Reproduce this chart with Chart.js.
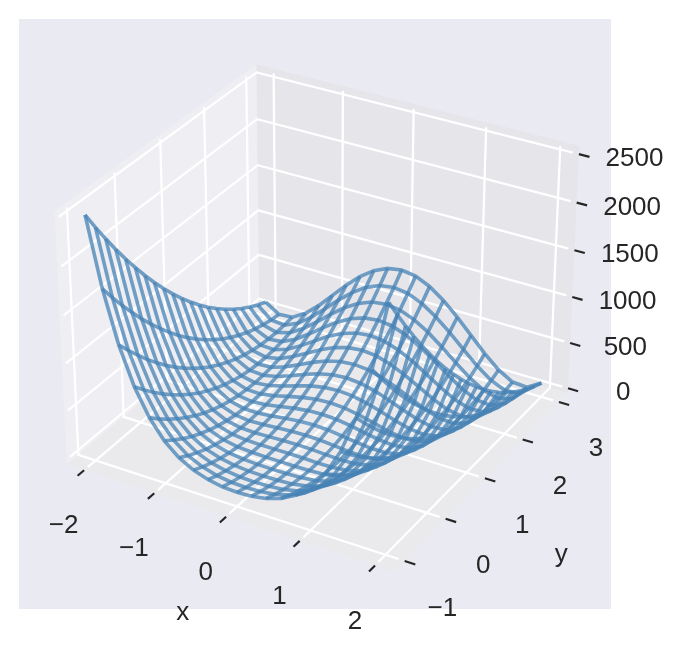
<!DOCTYPE html>
<html>
<head>
<meta charset="utf-8">
<title>Superficie</title>
<script src="https://cdn.jsdelivr.net/npm/chart.js@4"></script>
<style>
    body { margin: 0; background: #fff; }
    canvas { display: block; }
</style>
</head>
<body>
<canvas id="grafico" width="682" height="653"></canvas>
<script>
// Valores
const xValores = [-2, -1.8, -1.6, -1.4, -1.2, -1, -0.8, -0.6, -0.4, -0.2, 0, 0.2, 0.4, 0.6, 0.8, 1, 1.2, 1.4, 1.6, 1.8, 2];
const yValores = [-1, -0.8, -0.6, -0.4, -0.2, 0, 0.2, 0.4, 0.6, 0.8, 1, 1.2, 1.4, 1.6, 1.8, 2, 2.2, 2.4, 2.6, 2.8, 3];
// Uma linha para cada x, uma coluna para cada y
const zValores = [
    [2509, 2313, 2125, 1945, 1773, 1609, 1453, 1305, 1165, 1033, 909, 793, 685, 585, 493, 409, 333, 265, 205, 153, 109],
    [1806, 1640, 1483, 1333, 1191, 1058, 932, 815, 705, 603, 510, 424, 347, 277, 215, 162, 116, 79, 49, 27, 14],
    [1274, 1136, 1006, 883, 769, 662, 564, 474, 391, 317, 250, 192, 142, 99, 65, 38, 20, 10, 7, 13, 26],
    [882, 768, 661, 563, 473, 390, 316, 249, 191, 141, 98, 64, 37, 19, 9, 6, 12, 25, 47, 77, 114],
    [600, 507, 421, 344, 274, 212, 159, 113, 76, 46, 24, 11, 5, 8, 18, 36, 63, 97, 140, 190, 248],
    [404, 328, 260, 200, 148, 104, 68, 40, 20, 8, 4, 8, 20, 40, 68, 104, 148, 200, 260, 328, 404],
    [272, 210, 157, 111, 74, 44, 22, 9, 3, 6, 16, 34, 61, 95, 138, 188, 246, 313, 387, 470, 560],
    [188, 138, 95, 61, 34, 16, 6, 3, 9, 22, 44, 74, 111, 157, 210, 272, 342, 419, 505, 598, 700],
    [137, 94, 60, 33, 15, 5, 2, 8, 21, 43, 73, 110, 156, 209, 271, 341, 418, 504, 597, 699, 809],
    [109, 72, 42, 20, 7, 1, 4, 14, 32, 59, 93, 136, 186, 244, 311, 385, 468, 558, 656, 763, 877],
    [101, 65, 37, 17, 5, 1, 5, 17, 37, 65, 101, 145, 197, 257, 325, 401, 485, 577, 677, 785, 901],
    [109, 72, 42, 20, 7, 1, 4, 14, 32, 59, 93, 136, 186, 244, 311, 385, 468, 558, 656, 763, 877],
    [135, 92, 58, 31, 13, 3, 0, 6, 19, 41, 71, 108, 154, 207, 269, 339, 416, 502, 595, 697, 807],
    [185, 135, 92, 58, 31, 13, 3, 0, 6, 19, 41, 71, 108, 154, 207, 269, 339, 416, 502, 595, 697],
    [269, 207, 154, 108, 71, 41, 19, 6, 0, 3, 13, 31, 58, 92, 135, 185, 243, 310, 384, 467, 557],
    [400, 324, 256, 196, 144, 100, 64, 36, 16, 4, 0, 4, 16, 36, 64, 100, 144, 196, 256, 324, 400],
    [595, 502, 416, 339, 269, 207, 154, 108, 71, 41, 19, 6, 0, 3, 13, 31, 58, 92, 135, 185, 243],
    [876, 762, 655, 557, 467, 384, 310, 243, 185, 135, 92, 58, 31, 13, 3, 0, 6, 19, 41, 71, 108],
    [1267, 1129, 999, 876, 762, 655, 557, 467, 384, 310, 243, 185, 135, 92, 58, 31, 13, 3, 0, 6, 19],
    [1799, 1633, 1476, 1326, 1184, 1051, 925, 808, 698, 596, 503, 417, 340, 270, 208, 155, 109, 72, 42, 20, 7],
    [2501, 2305, 2117, 1937, 1765, 1601, 1445, 1297, 1157, 1025, 901, 785, 677, 577, 485, 401, 325, 257, 197, 145, 101]
];
const xTicks = [-2, -1, 0, 1, 2];
const yTicks = [-1, 0, 1, 2, 3];
const zTicks = [0, 500, 1000, 1500, 2000, 2500];

// Limites da caixa, topo do painel e fim das linhas de grade
const xLim = [-2.25, 2.25], yLim = [-1.25, 3.25], zLim = [-52, 2561];
const folgaXY = 0.08, zGradeTopo = 2535, zPainelTopo = 2585;

// Câmera: elevação 30, azimute -60, distância 10
const caixa = [1.206, 1.206, 0.92];
const elev = 30 * Math.PI / 180, azim = -60 * Math.PI / 180, dist = 10;
const w = [Math.cos(elev) * Math.cos(azim), Math.cos(elev) * Math.sin(azim), Math.sin(elev)];
const nu = Math.hypot(w[0], w[1]);
const u = [-w[1] / nu, w[0] / nu, 0];
const v = [w[1] * u[2] - w[2] * u[1], w[2] * u[0] - w[0] * u[2], w[0] * u[1] - w[1] * u[0]];

function projetar(x, y, z) {
    const p = [
        ((x - xLim[0]) / (xLim[1] - xLim[0]) - 0.5) * caixa[0] - dist * w[0],
        ((y - yLim[0]) / (yLim[1] - yLim[0]) - 0.5) * caixa[1] - dist * w[1],
        ((z - zLim[0]) / (zLim[1] - zLim[0]) - 0.5) * caixa[2] - dist * w[2]
    ];
    const prof = -(p[0] * w[0] + p[1] * w[1] + p[2] * w[2]);
    return {
        x: (p[0] * u[0] + p[1] * u[1]) / prof,
        y: (p[0] * v[0] + p[1] * v[1] + p[2] * v[2]) / prof
    };
}

// Escalas do gráfico: janela da projeção na tela
const escala = 3110, centroX = 322, centroY = 307;
const limitesX = { min: -centroX / escala, max: (682 - centroX) / escala };
const limitesY = { min: -(653 - centroY) / escala, max: centroY / escala };
// Retângulo de fundo do eixo
const fundoX = [19, 611], fundoY = [19, 609];

const conjuntos = [];

function segmento(pontos, cor, largura) {
    conjuntos.push({
        data: pontos,
        showLine: true,
        borderColor: cor,
        borderWidth: largura,
        pointRadius: 0,
        tension: 0,
        borderCapStyle: 'butt'
    });
}

// Grade branca nas três paredes
const branco = '#ffffff';
xTicks.forEach(t => segmento([projetar(t, yLim[0] + folgaXY, zLim[0]), projetar(t, yLim[1], zLim[0]), projetar(t, yLim[1], zGradeTopo)], branco, 2.3));
yTicks.forEach(t => segmento([projetar(xLim[1] - folgaXY, t, zLim[0]), projetar(xLim[0], t, zLim[0]), projetar(xLim[0], t, zGradeTopo)], branco, 2.3));
zTicks.forEach(t => segmento([projetar(xLim[0], yLim[0] + folgaXY, t), projetar(xLim[0], yLim[1], t), projetar(xLim[1] - folgaXY, yLim[1], t)], branco, 2.3));

// Marcas dos eixos
const preto = '#262626';
const tickIni = 0, tickFim = 0.14;
xTicks.forEach(t => segmento([projetar(t, yLim[0] - tickIni, zLim[0]), projetar(t, yLim[0] - tickFim, zLim[0])], preto, 2.2));
yTicks.forEach(t => segmento([projetar(xLim[1] + tickIni, t, zLim[0]), projetar(xLim[1] + tickFim, t, zLim[0])], preto, 2.2));
zTicks.forEach(t => segmento([projetar(xLim[1] + tickIni, yLim[1], t), projetar(xLim[1] + tickFim, yLim[1], t)], preto, 2.2));

// Malha da superfície: linhas com x fixo e linhas com y fixo
const azul = 'rgba(70, 130, 180, 0.75)';
xValores.forEach((x, i) => segmento(yValores.map((y, j) => projetar(x, y, zValores[i][j])), azul, 3.6));
yValores.forEach((y, j) => segmento(xValores.map((x, i) => projetar(x, y, zValores[i][j])), azul, 3.6));

// O Chart.js desenha o primeiro conjunto por cima
conjuntos.reverse();

// Fundo e painéis
const pluginPaineis = {
    id: 'paineis',
    beforeDatasetsDraw(chart) {
        const { ctx, scales } = chart;
        const poligono = (pontos, cor) => {
            ctx.beginPath();
            pontos.forEach((p, i) => {
                const px = scales.x.getPixelForValue(p.x), py = scales.y.getPixelForValue(p.y);
                if (i === 0) ctx.moveTo(px, py); else ctx.lineTo(px, py);
            });
            ctx.closePath();
            ctx.fillStyle = cor;
            ctx.fill();
        };
        const xa = xLim[0], xb = xLim[1], ya = yLim[0], yb = yLim[1], za = zLim[0], zb = zPainelTopo;
        ctx.save();
        ctx.fillStyle = '#eaeaf2';
        ctx.fillRect(fundoX[0], fundoY[0], fundoX[1] - fundoX[0], fundoY[1] - fundoY[0]);
        poligono([projetar(xa, ya, za), projetar(xa, yb, za), projetar(xa, yb, zb), projetar(xa, ya, zb)], '#eeeef3');
        poligono([projetar(xa, yb, za), projetar(xb, yb, za), projetar(xb, yb, zb), projetar(xa, yb, zb)], '#e5e5ea');
        poligono([projetar(xa, ya, za), projetar(xb, ya, za), projetar(xb, yb, za), projetar(xa, yb, za)], '#eaeaed');
        ctx.restore();
    }
};

// Rótulos dos eixos como texto
const pluginRotulos = {
    id: 'rotulos',
    afterDatasetsDraw(chart) {
        const { ctx, scales } = chart;
        const texto = (ponto, dx, dy, str, tamanho) => {
            ctx.font = tamanho + 'px "Liberation Sans"';
            ctx.fillText(str, scales.x.getPixelForValue(ponto.x) + dx, scales.y.getPixelForValue(ponto.y) + dy);
        };
        const sinal = t => String(t).replace('-', '\u2212');
        ctx.save();
        ctx.fillStyle = '#262626';
        ctx.textAlign = 'center';
        ctx.textBaseline = 'middle';
        xTicks.forEach(t => texto(projetar(t, yLim[0] - tickFim, zLim[0]), -14, 50, sinal(t), 26));
        yTicks.forEach(t => texto(projetar(xLim[1] + tickFim, t, zLim[0]), 27, 44, sinal(t), 26));
        zTicks.forEach(t => texto(projetar(xLim[1] + tickFim, yLim[1], t), 45, 2, sinal(t), 26));
        texto(projetar(0, yLim[0] - tickFim, zLim[0]), -37, 90, 'x', 26);
        texto(projetar(xLim[1] + tickFim, 1, zLim[0]), 66, 73, 'y', 26);
        ctx.restore();
    }
};

// Renderizar o gráfico
new Chart(document.getElementById('grafico').getContext('2d'), {
    type: 'scatter',
    data: { datasets: conjuntos },
    plugins: [pluginPaineis, pluginRotulos],
    options: {
        responsive: false,
        animation: false,
        layout: { padding: 0 },
        plugins: { legend: { display: false }, title: { display: false }, tooltip: { enabled: false } },
        scales: {
            x: { type: 'linear', display: false, min: limitesX.min, max: limitesX.max },
            y: { type: 'linear', display: false, min: limitesY.min, max: limitesY.max }
        }
    }
});
</script>
</body>
</html>
